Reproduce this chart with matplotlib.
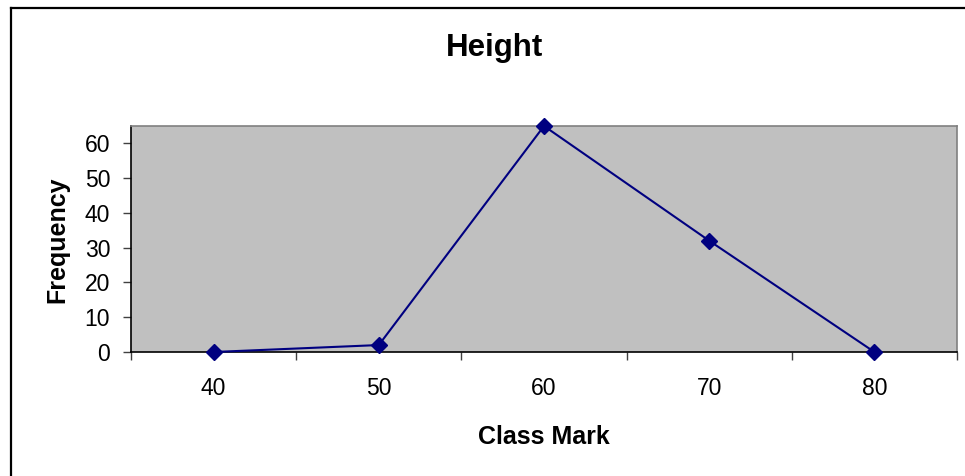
import matplotlib
matplotlib.use("Agg")
import matplotlib.pyplot as plt
from matplotlib.lines import Line2D

categories = ["40", "50", "60", "70", "80"]
frequency = [0, 2, 65, 32, 0]
y_ticks = [0, 10, 20, 30, 40, 50, 60]

plt.rcParams['font.family'] = ['Liberation Sans', 'DejaVu Sans']

W, H = 965, 476
fig = plt.figure(figsize=(W / 100, H / 100), dpi=100)
fig.patch.set_facecolor('white')

left, right, top, bottom = 131, 957, 126, 352
ax = fig.add_axes([left / W, 1 - bottom / H, (right - left) / W, (bottom - top) / H])
ax.set_facecolor('#C0C0C0')

x = list(range(len(categories)))
ax.plot(x, frequency, color='#000080', lw=1.5, marker='D', ms=8.5,
        markerfacecolor='#000080', markeredgecolor='#000080', clip_on=False, zorder=5)

ax.set_xlim(-0.5, len(categories) - 0.5)
ax.set_ylim(0, 65)

# category boundaries as major ticks, labels at centres as minor ticks
ax.set_xticks([i - 0.5 for i in range(len(categories) + 1)])
ax.set_xticklabels([])
ax.set_xticks(x, minor=True)
ax.set_xticklabels(categories, minor=True, fontsize=16.5)
ax.tick_params(axis='x', which='major', direction='out', length=6, width=1, color='#404040')
ax.tick_params(axis='x', which='minor', length=0, pad=18)

ax.set_yticks(y_ticks)
ax.set_yticklabels([str(v) for v in y_ticks], fontsize=16.5)
ax.tick_params(axis='y', direction='out', length=6, width=1, color='#404040', pad=9)

for side in ['top', 'right']:
    ax.spines[side].set_color('#808080')
    ax.spines[side].set_linewidth(1.2)
for side in ['left', 'bottom']:
    ax.spines[side].set_color('black')
    ax.spines[side].set_linewidth(1.2)

fig.text(494 / W, 1 - 48 / H, "Height", ha='center', va='center', fontsize=22.5, fontweight='bold')
fig.text(544 / W, 1 - 437 / H, "Class Mark", ha='center', va='center', fontsize=18, fontweight='bold')
fig.text(57 / W, 1 - 240 / H, "Frequency", ha='center', va='center', fontsize=18,
         fontweight='bold', rotation=90)

# outer chart frame (left and top edges visible)
fig.add_artist(Line2D([11 / W, 11 / W], [0, 1 - 8 / H], color='black', lw=1.6, transform=fig.transFigure))
fig.add_artist(Line2D([11 / W, 1], [1 - 8 / H, 1 - 8 / H], color='black', lw=1.6, transform=fig.transFigure))

fig.savefig("out.png", dpi=100)
